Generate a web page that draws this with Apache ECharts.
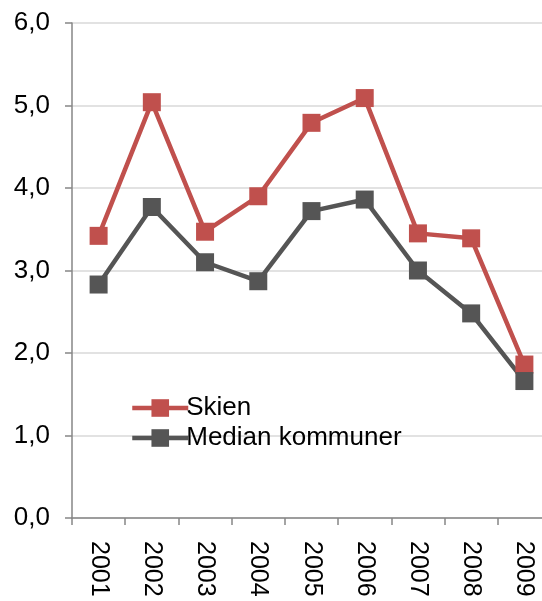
<!DOCTYPE html>
<html>
<head>
<meta charset="utf-8">
<script src="https://cdn.jsdelivr.net/npm/echarts@6/dist/echarts.min.js"></script>
<style>
  html, body { margin: 0; padding: 0; background: #fff; }
  #chart { width: 542px; height: 601px; }
</style>
</head>
<body>
<div id="chart"></div>
<script>
var years = ['2001', '2002', '2003', '2004', '2005', '2006', '2007', '2008', '2009']
var skien = [3.42, 5.04, 3.47, 3.90, 4.79, 5.09, 3.45, 3.39, 1.86]
var median = [2.83, 3.77, 3.10, 2.87, 3.72, 3.86, 3.00, 2.48, 1.66]

var chart = echarts.init(document.getElementById('chart'))
var font = 'Liberation Sans, Arial, sans-serif'

chart.setOption({
  animation: false,
  grid: {
    left: 72,
    right: -9,
    top: 23,
    bottom: 83,
    containLabel: false,
    outerBoundsMode: 'none'
  },
  legend: {
    orient: 'vertical',
    left: 125,
    top: 390,
    itemWidth: 56,
    itemHeight: 22,
    itemGap: 4,
    lineStyle: { width: 4.5 },
    textStyle: {
      fontFamily: font,
      fontSize: 26,
      color: '#000',
      padding: [0, 0, 0, -7]
    },
    data: ['Skien', 'Median kommuner']
  },
  xAxis: {
    type: 'category',
    data: years,
    boundaryGap: true,
    axisLine: { lineStyle: { color: '#868686', width: 1.5 } },
    axisTick: { show: true, length: 7, alignWithLabel: false, lineStyle: { color: '#868686', width: 1.5 } },
    axisLabel: {
      rotate: -90,
      margin: 23,
      fontFamily: font,
      fontSize: 25,
      color: '#000'
    }
  },
  yAxis: {
    type: 'value',
    min: 0,
    max: 6,
    interval: 1,
    axisLine: { show: true, lineStyle: { color: '#868686', width: 1.5 } },
    axisTick: { show: true, length: 7, lineStyle: { color: '#868686', width: 1.5 } },
    splitLine: { lineStyle: { color: '#d9d9d9', width: 1.5 } },
    axisLabel: {
      margin: 22,
      fontFamily: font,
      fontSize: 26,
      color: '#000',
      formatter: function (v) { return v.toFixed(1).replace('.', ',') }
    }
  },
  series: [
    {
      name: 'Skien',
      type: 'line',
      data: skien,
      symbol: 'rect',
      symbolSize: 18,
      itemStyle: { color: '#c0504d' },
      lineStyle: { color: '#c0504d', width: 4.5 }
    },
    {
      name: 'Median kommuner',
      type: 'line',
      data: median,
      symbol: 'rect',
      symbolSize: 18,
      itemStyle: { color: '#555555' },
      lineStyle: { color: '#555555', width: 4.5 }
    }
  ]
})
</script>
</body>
</html>
